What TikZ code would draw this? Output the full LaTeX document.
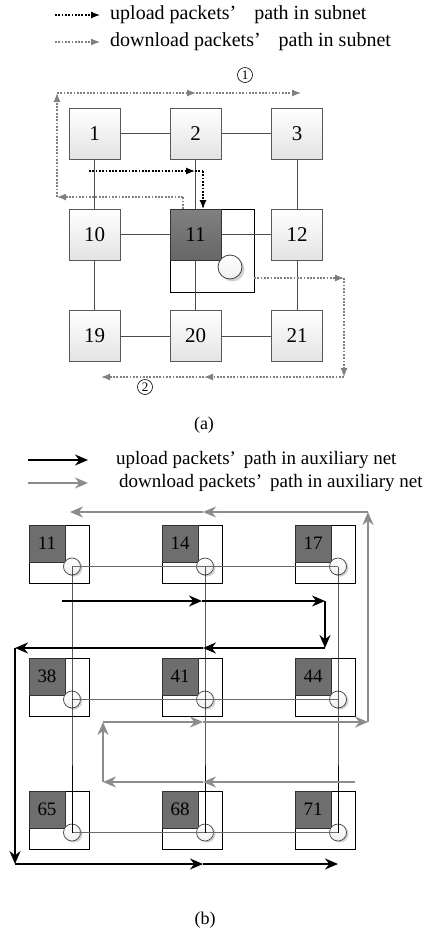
\documentclass[tikz,border=0pt]{standalone}
\usepackage{fontspec}
\setmainfont{Liberation Serif}
\usetikzlibrary{arrows.meta}
\begin{document}
\begin{tikzpicture}[x=1pt,y=-1pt,
  abox/.style={draw=gray!70!black, line width=0.8pt, top color=white, bottom color=gray!22, minimum size=51pt, inner sep=0pt, font=\fontsize{21}{21}\selectfont},
  adark/.style={draw=gray!40!black, line width=0.8pt, top color=black!50, bottom color=black!60, minimum size=51pt, inner sep=0pt, font=\fontsize{21}{21}\selectfont},
  alink/.style={draw=gray!60!black, line width=0.8pt},
  dlpath/.style={draw=gray, line width=1.2pt, dash pattern=on 1.8pt off 1.5pt, -{Latex[length=9pt,width=7pt]}},
  dlseg/.style={draw=gray, line width=1.2pt, dash pattern=on 1.8pt off 1.5pt},
  ulpath/.style={draw=black, line width=1.2pt, dash pattern=on 1.8pt off 1.5pt, -{Latex[length=9pt,width=7pt]}},
  ulseg/.style={draw=black, line width=1.2pt, dash pattern=on 1.8pt off 1.5pt},
  bouter/.style={draw=black, line width=0.8pt, fill=white, minimum width=60pt, minimum height=58pt, inner sep=0pt},
  bdark/.style={draw=gray!40!black, line width=0.6pt, fill=black!57, minimum width=36pt, minimum height=37pt, inner sep=0pt, font=\fontsize{19}{19}\selectfont},
  bcirc/.style={circle, draw=gray!50!black, line width=0.7pt, top color=white, bottom color=gray!12, minimum size=17pt, inner sep=0pt},
  gline/.style={draw=gray!85!black, line width=1.1pt},
  kline/.style={draw=black, line width=0.9pt},
  bup/.style={draw=black, line width=1.8pt, -{Stealth[length=13pt,width=11pt]}},
  bdn/.style={draw=gray!90, line width=1.6pt, -{Stealth[length=13pt,width=11pt]}},
  lbla/.style={font=\fontsize{20}{20}\selectfont, anchor=west, inner sep=0pt},
  lblb/.style={font=\fontsize{19}{19}\selectfont, anchor=west, inner sep=0pt},
  circnum/.style={circle, draw=black, line width=0.6pt, minimum size=15pt, inner sep=0pt, font=\fontsize{13}{13}\selectfont},
  captxt/.style={font=\fontsize{18}{18}\selectfont, inner sep=0pt}
]
\useasboundingbox (0,0) rectangle (424,932);

% ---------------- (a) legend
\coordinate (la1) at (55,15); \coordinate (la2) at (100,15);
\coordinate (lb1) at (55,42); \coordinate (lb2) at (100,42);
\draw[ulpath] (la1) -- (la2);
\draw[dlpath] (lb1) -- (lb2);
\node[lbla] (ta) at (110,15) {upload packets’\hspace{18pt}path in subnet};
\node[lbla] (tb) at (110,42) {download packets’\hspace{18pt}path in subnet};

% ---------------- (a) grid
\draw[draw=black, line width=0.8pt, fill=white] (170,209) rectangle (254,292);
\node[abox] (n1) at (94.5,133.5) {1};
\node[abox] (n2) at (195.5,133.5) {2};
\node[abox] (n3) at (297,133.5) {3};
\node[abox] (n10) at (94.5,234.5) {10};
\node[adark] (n11) at (195.5,234.5) {11};
\node[abox] (n12) at (297,234.5) {12};
\node[abox] (n19) at (94.5,336) {19};
\node[abox] (n20) at (195.5,336) {20};
\node[abox] (n21) at (297,336) {21};
\fill[gray!35] (232.5,269.5) circle (12);
\node[circle, draw=gray!50!black, line width=0.8pt, top color=white, bottom color=gray!12, minimum size=24pt, inner sep=0pt] (ac) at (230,267) {};

\draw[alink] (n1.east) -- (n2.west);
\draw[alink] (n2.east) -- (n3.west);
\draw[alink] (n1.south) -- (n10.north);
\draw[alink] (n2.south) -- (n11.north);
\draw[alink] (n3.south) -- (n12.north);
\draw[alink] (n10.east) -- (n11.west);
\draw[alink] (n11.east) -- (n12.west);
\draw[alink] (n10.south) -- (n19.north);
\draw[alink] (n11.south) -- (n20.north);
\draw[alink] (n12.south) -- (n21.north);
\draw[alink] (n19.east) -- (n20.west);
\draw[alink] (n20.east) -- (n21.west);

% download paths (a)
\coordinate (p0) at (183,209);
\coordinate (p1) at (183,197);
\coordinate (p2) at (57,197);
\coordinate (p3) at (57,93);
\coordinate (p4) at (196,93);
\coordinate (p5) at (301,93);
\draw[dlseg] (p0) -- (p1);
\draw[dlpath] (p1) -- (p2);
\draw[dlpath] (p2) -- (p3);
\draw[dlpath] (p3) -- (p4);
\draw[dlpath] (p4) -- (p5);
\coordinate (q0) at (254,278);
\coordinate (q1) at (344,278);
\coordinate (q2) at (344,377);
\coordinate (q3) at (204,377);
\coordinate (q4) at (101,377);
\draw[dlpath] (q0) -- (q1);
\draw[dlpath] (q1) -- (q2);
\draw[dlpath] (q2) -- (q3);
\draw[dlpath] (q3) -- (q4);
% upload path (a)
\coordinate (r0) at (89,171);
\coordinate (r1) at (195,171);
\coordinate (r2) at (203,171);
\coordinate (r3) at (203,209);
\draw[ulpath] (r0) -- (r1);
\draw[ulseg] (r1) -- (r2);
\draw[ulpath] (r2) -- (r3);

\node[circnum] (c1) at (245,75) {1};
\node[circnum] (c2) at (145,387) {2};
\node[captxt] (capa) at (204,425) {(a)};

% ---------------- (b) legend
\coordinate (lc1) at (28,460); \coordinate (lc2) at (88,460);
\coordinate (ld1) at (28,483); \coordinate (ld2) at (88,483);
\draw[bup] (lc1) -- (lc2);
\draw[bdn] (ld1) -- (ld2);
\node[lblb] (tc) at (116,460) {upload packets’\hspace{8pt}path in auxiliary net};
\node[lblb] (td) at (119,483) {download packets’\hspace{8pt}path in auxiliary net};

% ---------------- (b) grid
\foreach \n/\x/\y in {11/29/525, 14/162/525, 17/295/525, 38/29/658, 41/162/658, 44/295/658, 65/29/791, 68/162/791, 71/295/791}{
  \node[bouter] (o\n) at ({\x+30},{\y+29}) {};
  \node[bdark] (k\n) at ({\x+18},{\y+18.5}) {\n};
  \fill[gray!35] ({\x+45},{\y+43}) circle (8.5);
  \node[bcirc] (c\n) at ({\x+43},{\y+41.5}) {};
}
\draw[gline] (c11.center) -- (c14.center) -- (c17.center);
\draw[gline] (c38.center) -- (c41.center) -- (c44.center);
\draw[gline] (c65.center) -- (c68.center) -- (c71.center);
\draw[kline] (c11.center) -- (c38.center) -- (c65.center);
\draw[kline] (c14.center) -- (c41.center) -- (c68.center);
\draw[kline] (c17.center) -- (c44.center) -- (c71.center);

% download path (b)
\coordinate (d0) at (355,782);
\coordinate (d1) at (203,782);
\coordinate (d2) at (103,782);
\coordinate (d3) at (103,722);
\coordinate (d4) at (203,722);
\coordinate (d5) at (368,722);
\coordinate (d6) at (368,512);
\coordinate (d7) at (203,512);
\coordinate (d8) at (70,512);
\draw[bdn] (d0) -- (d1);
\draw[bdn] (d1) -- (d2);
\draw[bdn] (d2) -- (d3);
\draw[bdn] (d3) -- (d4);
\draw[bdn] (d4) -- (d5);
\draw[bdn] (d5) -- (d6);
\draw[bdn] (d6) -- (d7);
\draw[bdn] (d7) -- (d8);

% upload path (b)
\coordinate (u0) at (62,601);
\coordinate (u1) at (202,601);
\coordinate (u2) at (325,601);
\coordinate (u3) at (325,648);
\coordinate (u4) at (203,648);
\coordinate (u5) at (15,648);
\coordinate (u6) at (15,864);
\coordinate (u7) at (203,864);
\coordinate (u8) at (338,864);
\draw[bup] (u0) -- (u1);
\draw[bup] (u1) -- (u2);
\draw[bup] (u2) -- (u3);
\draw[bup] (u3) -- (u4);
\draw[bup] (u4) -- (u5);
\draw[bup] (u5) -- (u6);
\draw[bup] (u6) -- (u7);
\draw[bup] (u7) -- (u8);

\node[captxt] (capb) at (205,920) {(b)};
\end{tikzpicture}
\end{document}
